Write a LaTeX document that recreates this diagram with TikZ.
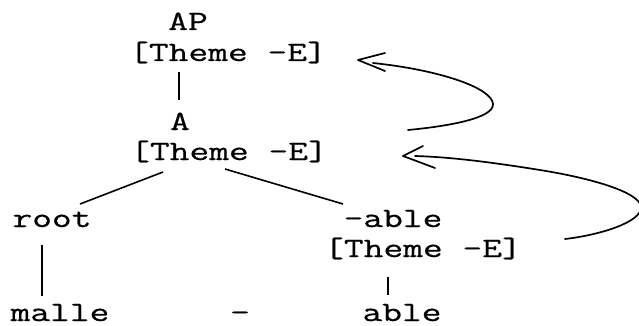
\documentclass[tikz,border=0pt]{standalone}
\usepackage{fontspec}
\newfontfamily\cour{Latin Modern Mono}[FakeStretch=1.37,FakeBold=0.6]
\begin{document}
\begin{tikzpicture}[x=1pt,y=-1pt,
  lbl/.style={inner sep=0pt,anchor=base,font=\cour\fontsize{28}{32}\selectfont},
  edge/.style={line width=1.6pt},
  hand/.style={line width=1.7pt,line cap=round,line join=round}]
\useasboundingbox (0,0) rectangle (639,326);
% nodes
\node[lbl] (ap) at (188,30) {AP};
\node[lbl] (th1) at (228,61) {[Theme -E]};
\node[lbl] (a) at (180,130) {A};
\node[lbl] (th2) at (229,160) {[Theme -E]};
\node[lbl] (root) at (52,227) {root};
\node[lbl] (able1) at (393,227) {-able};
\node[lbl] (th3) at (423,257) {[Theme -E]};
\node[lbl] (malle) at (60,321) {malle};
\node[lbl] (dash) at (240,321) {-};
\node[lbl] (able2) at (402,321) {able};
% tree edges
\draw[edge] ([shift={(-49,11)}]th1.base) -- ([shift={(-1,-30)}]a.base);
\draw[edge] ([shift={(-66,12)}]th2.base) -- ([shift={(28,-23)}]root.base);
\draw[edge] ([shift={(-4,9)}]th2.base) -- ([shift={(-50,-23)}]able1.base);
\draw[edge] ([shift={(-10,18)}]root.base) -- ([shift={(-18,-25)}]malle.base);
\draw[edge] ([shift={(-35,20)}]th3.base) -- ([shift={(-14,-26)}]able2.base);
% arrow endpoints
\coordinate (s1) at ([shift={(179,-30)}]th2.base);
\coordinate (e1) at ([shift={(145,2)}]th1.base);
\coordinate (tip1) at ([shift={(130,-1)}]th1.base);
\coordinate (s2) at ([shift={(142,-18)}]th3.base);
\coordinate (e2) at ([shift={(186,-4)}]th2.base);
\coordinate (tip2) at ([shift={(174,-4)}]th2.base);
% arrow 1: from th2 up to th1
\draw[hand] (s1) .. controls +(42,-4) and +(1,14) .. ++(85,-26)
  .. controls +(-1,-16) and +(67,7) .. (e1);
\draw[hand] ([shift={(27,-7)}]tip1) -- (tip1) -- ([shift={(27,11)}]tip1);
% arrow 2: from th3 up to th2
\draw[hand] (s2) .. controls +(35,-4) and +(1,15) .. ++(76,-32)
  .. controls +(-1,-15) and +(50,8) .. ++(-101,-37)
  .. controls +(-50,-8) and +(35,1) .. (e2);
\draw[hand] ([shift={(20,-10)}]tip2) -- (tip2) -- ([shift={(32,12)}]tip2);
\end{tikzpicture}
\end{document}
